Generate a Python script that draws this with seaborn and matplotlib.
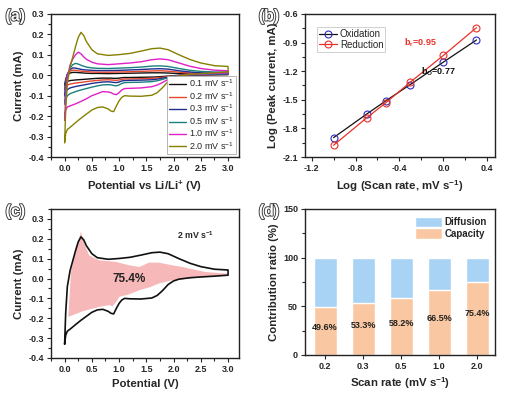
import numpy as np
import pandas as pd
import seaborn as sns
import matplotlib.pyplot as plt
import matplotlib.patheffects as pe
from matplotlib.ticker import AutoMinorLocator

# ---------------- data ----------------
# (a) CV curves: anodic branch (V going up) then cathodic branch (V going down)
rates = ['0.1', '0.2', '0.3', '0.5', '1.0', '2.0']
colors = ['#111111', '#e8452c', '#1f2f8f', '#1b8080', '#e21fc8', '#858000']

v_up = [0.0, 0.02, 0.05, 0.1, 0.15, 0.2, 0.25, 0.3, 0.35, 0.4, 0.5, 0.6,
        0.8, 1.0, 1.2, 1.4, 1.6, 1.75, 1.9, 2.1, 2.3, 2.5, 2.75, 3.0]
v_dn = [3.0, 2.75, 2.5, 2.3, 2.1, 2.0, 1.9, 1.8, 1.7, 1.6, 1.4, 1.2, 1.1, 1.05,
        1.0, 0.95, 0.9, 0.85, 0.8, 0.7, 0.6, 0.5, 0.4, 0.3, 0.2, 0.1, 0.05, 0.02, 0.0]

i_up_01 = [-0.05, -0.018, 0.002, 0.011, 0.014, 0.014, 0.013, 0.012, 0.011, 0.01, 0.009, 0.009,
           0.008, 0.009, 0.01, 0.011, 0.012, 0.012, 0.011, 0.008, 0.006, 0.005, 0.005, 0.005]
i_dn_01 = [0.003, 0.002, 0.001, 0.0, -0.001, -0.002, -0.004, -0.006, -0.008, -0.009, -0.01, -0.011, -0.011, -0.012,
           -0.014, -0.015, -0.015, -0.014, -0.014, -0.014, -0.015, -0.017, -0.019, -0.021, -0.023, -0.026, -0.03, -0.036, -0.05]
i_up_02 = [-0.07, -0.025, 0.005, 0.02, 0.025, 0.024, 0.022, 0.02, 0.019, 0.018, 0.016, 0.015,
           0.015, 0.016, 0.017, 0.019, 0.021, 0.022, 0.02, 0.015, 0.011, 0.009, 0.008, 0.008]
i_dn_02 = [0.004, 0.003, 0.002, 0.001, -0.001, -0.003, -0.006, -0.01, -0.013, -0.015, -0.017, -0.018, -0.018, -0.02,
           -0.023, -0.025, -0.024, -0.023, -0.022, -0.023, -0.025, -0.028, -0.031, -0.035, -0.038, -0.043, -0.048, -0.056, -0.07]
i_up_03 = [-0.10, -0.04, 0.005, 0.028, 0.036, 0.035, 0.032, 0.029, 0.027, 0.026, 0.024, 0.023,
           0.023, 0.024, 0.026, 0.028, 0.031, 0.032, 0.03, 0.022, 0.016, 0.012, 0.01, 0.01]
i_dn_03 = [0.006, 0.004, 0.003, 0.001, -0.001, -0.004, -0.009, -0.014, -0.019, -0.022, -0.024, -0.025, -0.026, -0.028,
           -0.033, -0.036, -0.035, -0.033, -0.032, -0.033, -0.036, -0.04, -0.045, -0.05, -0.055, -0.062, -0.07, -0.082, -0.10]
i_up_05 = [-0.14, -0.06, 0.0, 0.035, 0.052, 0.058, 0.055, 0.049, 0.044, 0.04, 0.036, 0.034,
           0.033, 0.035, 0.037, 0.04, 0.045, 0.046, 0.043, 0.033, 0.024, 0.019, 0.016, 0.015]
i_dn_05 = [0.008, 0.006, 0.004, 0.002, -0.001, -0.005, -0.012, -0.02, -0.027, -0.031, -0.034, -0.035, -0.036, -0.04,
           -0.047, -0.052, -0.05, -0.047, -0.046, -0.047, -0.052, -0.058, -0.065, -0.072, -0.08, -0.09, -0.1, -0.115, -0.14]
i_up_10 = [-0.22, -0.1, -0.01, 0.05, 0.08, 0.1, 0.113, 0.105, 0.09, 0.078, 0.064, 0.056,
           0.052, 0.056, 0.06, 0.066, 0.076, 0.08, 0.076, 0.06, 0.044, 0.033, 0.025, 0.022]
i_dn_10 = [0.012, 0.009, 0.006, 0.003, -0.002, -0.008, -0.02, -0.035, -0.048, -0.056, -0.062, -0.064, -0.065, -0.072,
           -0.085, -0.095, -0.092, -0.085, -0.082, -0.08, -0.09, -0.1, -0.115, -0.128, -0.14, -0.15, -0.155, -0.17, -0.22]
i_up_20 = [-0.33, -0.17, -0.04, 0.04, 0.09, 0.14, 0.185, 0.21, 0.195, 0.165, 0.125, 0.105,
           0.097, 0.101, 0.107, 0.118, 0.13, 0.133, 0.125, 0.1, 0.077, 0.06, 0.047, 0.043]
i_dn_20 = [0.017, 0.012, 0.008, 0.004, -0.003, -0.012, -0.03, -0.06, -0.085, -0.098, -0.103, -0.102, -0.1, -0.108,
           -0.125, -0.15, -0.178, -0.175, -0.165, -0.155, -0.158, -0.17, -0.19, -0.21, -0.232, -0.255, -0.265, -0.285, -0.33]

i_up = [i_up_01, i_up_02, i_up_03, i_up_05, i_up_10, i_up_20]
i_dn = [i_dn_01, i_dn_02, i_dn_03, i_dn_05, i_dn_10, i_dn_20]

# (b) log peak current vs log scan rate
log_rate = [-1.0, -0.699, -0.523, -0.301, 0.0, 0.301]
log_ox = [-1.897, -1.65, -1.51, -1.34, -1.105, -0.873]
log_red = [-1.977, -1.69, -1.53, -1.315, -1.035, -0.744]

# (c) capacitive contribution region at 2 mV/s
cap_v_up = [0.068, 0.117, 0.21, 0.30, 0.36, 0.45, 0.63, 0.94, 1.18, 1.37, 1.55, 1.73, 1.97, 2.16, 2.58, 2.98]
cap_i_up = [-0.193, 0.033, 0.151, 0.235, 0.176, 0.117, 0.092, 0.084, 0.067, 0.058, 0.08, 0.08, 0.067, 0.058, 0.033, 0.025]
cap_v_dn = [2.98, 2.58, 2.28, 1.97, 1.73, 1.55, 1.37, 1.18, 1.0, 0.97, 0.88, 0.82, 0.63, 0.33, 0.068]
cap_i_dn = [0.015, 0.008, 0.0, -0.009, -0.025, -0.045, -0.059, -0.08, -0.092, -0.109, -0.14, -0.134, -0.143, -0.165, -0.193]

# (d) contribution ratio
scan_rates = ['0.2', '0.3', '0.5', '1.0', '2.0']
capacity = [49.6, 53.3, 58.2, 66.5, 75.4]

# ---------------- style ----------------
sns.set_style('ticks')
plt.rcParams['font.family'] = ['Liberation Sans', 'DejaVu Sans']
plt.rcParams['font.weight'] = 'bold'
plt.rcParams['axes.labelweight'] = 'bold'
plt.rcParams['mathtext.default'] = 'regular'
plt.rcParams['axes.linewidth'] = 1.0
plt.rcParams['axes.edgecolor'] = '#222222'
plt.rcParams['xtick.direction'] = 'out'
plt.rcParams['ytick.direction'] = 'out'
plt.rcParams['xtick.major.size'] = 3
plt.rcParams['ytick.major.size'] = 3
plt.rcParams['xtick.minor.size'] = 2
plt.rcParams['ytick.minor.size'] = 2
plt.rcParams['xtick.major.pad'] = 2
plt.rcParams['ytick.major.pad'] = 2
plt.rcParams['xtick.minor.visible'] = True
plt.rcParams['ytick.minor.visible'] = True

fig = plt.figure(figsize=(5.08, 3.93), dpi=100)
ax_a = fig.add_axes([0.1004, 0.6005, 0.370, 0.364])
ax_b = fig.add_axes([0.6004, 0.6005, 0.374, 0.364])
ax_c = fig.add_axes([0.1004, 0.0891, 0.370, 0.379])
ax_d = fig.add_axes([0.6004, 0.0967, 0.374, 0.3715])

tick_fs = 6.5
label_fs = 8.2


def finish(ax):
    for s in ax.spines.values():
        s.set_visible(True)
    ax.tick_params(labelsize=tick_fs, width=0.8)
    ax.tick_params(which='minor', width=0.8)
    for t in ax.get_xticklabels() + ax.get_yticklabels():
        t.set_fontweight('bold')


def panel_label(ax, s):
    ax.text(-0.19, 0.985, s, transform=ax.transAxes, fontsize=11.5, color='white',
            fontweight='bold', va='center', ha='center',
            path_effects=[pe.withStroke(linewidth=1.3, foreground='#333333')])


# ---------------- (a) ----------------
for k in range(len(rates)):
    df = pd.DataFrame({'V': v_up + v_dn, 'I': i_up[k] + i_dn[k]})
    sns.lineplot(data=df, x='V', y='I', sort=False, estimator=None, ax=ax_a,
                 color=colors[k], linewidth=1.0, label=rates[k] + ' mV s$^{-1}$')
ax_a.set_xlim(-0.25, 3.2)
ax_a.set_ylim(-0.4, 0.3)
ax_a.set_xticks([0.0, 0.5, 1.0, 1.5, 2.0, 2.5, 3.0])
ax_a.set_xticklabels(['0.0', '0.5', '1.0', '1.5', '2.0', '2.5', '3.0'])
ax_a.set_yticks([-0.4, -0.3, -0.2, -0.1, 0.0, 0.1, 0.2, 0.3])
ax_a.set_yticklabels(['-0.4', '-0.3', '-0.2', '-0.1', '0.0', '0.1', '0.2', '0.3'])
ax_a.xaxis.set_minor_locator(AutoMinorLocator(2))
ax_a.yaxis.set_minor_locator(AutoMinorLocator(2))
ax_a.set_xlabel('Potential vs Li/Li$^{+}$ (V)', fontsize=label_fs, labelpad=4)
ax_a.set_ylabel('Current (mA)', fontsize=label_fs, labelpad=3)
leg = ax_a.legend(loc='lower right', frameon=True, fancybox=False, framealpha=1,
                  handlelength=1.9, handletextpad=0.3, labelspacing=0.08,
                  borderpad=0.25, borderaxespad=0.35, prop={'size': 6.5, 'weight': 'normal'})
leg.get_frame().set_edgecolor('#aaaaaa')
leg.get_frame().set_linewidth(0.6)
finish(ax_a)
panel_label(ax_a, '(a)')

# ---------------- (b) ----------------
sns.lineplot(x=log_rate, y=log_ox, ax=ax_b, color='#111111', linewidth=0.9,
             marker='o', markersize=5, markerfacecolor='none',
             markeredgecolor='#2b2bbf', markeredgewidth=0.8, label='Oxidation')
sns.lineplot(x=log_rate, y=log_red, ax=ax_b, color='#e8322a', linewidth=0.9,
             marker='o', markersize=5, markerfacecolor='none',
             markeredgecolor='#e8322a', markeredgewidth=0.8, label='Reduction')
ax_b.set_xlim(-1.26, 0.47)
ax_b.set_ylim(-2.1, -0.6)
ax_b.set_xticks([-1.2, -0.8, -0.4, 0.0, 0.4])
ax_b.set_xticklabels(['-1.2', '-0.8', '-0.4', '0.0', '0.4'])
ax_b.set_yticks([-2.1, -1.8, -1.5, -1.2, -0.9, -0.6])
ax_b.set_yticklabels(['-2.1', '-1.8', '-1.5', '-1.2', '-0.9', '-0.6'])
ax_b.xaxis.set_minor_locator(AutoMinorLocator(2))
ax_b.yaxis.set_minor_locator(AutoMinorLocator(2))
ax_b.set_xlabel('Log (Scan rate, mV s$^{-1}$)', fontsize=label_fs, labelpad=4)
ax_b.set_ylabel('Log (Peak current, mA)', fontsize=label_fs, labelpad=3)
leg = ax_b.legend(loc='upper left', bbox_to_anchor=(0.04, 0.94),
                  frameon=True, fancybox=False, handlelength=1.8,
                  handletextpad=0.3, labelspacing=0.05, borderpad=0.2,
                  prop={'size': 7, 'weight': 'normal'})
leg.get_frame().set_edgecolor('#bbbbbb')
leg.get_frame().set_linewidth(0.6)
ax_b.text(-0.21, -0.9, 'b$_{r}$=0.95', color='#e8322a', fontsize=6.5,
          fontweight='bold', ha='center', va='center')
ax_b.text(-0.04, -1.21, 'b$_{O}$=0.77', color='#111111', fontsize=6.5,
          fontweight='bold', ha='center', va='center')
finish(ax_b)
panel_label(ax_b, '(b)')

# ---------------- (c) ----------------
ax_c.fill(cap_v_up + cap_v_dn, cap_i_up + cap_i_dn, color='#f6b8b8', lw=0)
sns.lineplot(x=v_up + v_dn, y=i_up_20 + i_dn_20, sort=False, estimator=None,
             ax=ax_c, color='#111111', linewidth=1.2)
ax_c.set_xlim(-0.25, 3.2)
ax_c.set_ylim(-0.4, 0.35)
ax_c.set_xticks([0.0, 0.5, 1.0, 1.5, 2.0, 2.5, 3.0])
ax_c.set_xticklabels(['0.0', '0.5', '1.0', '1.5', '2.0', '2.5', '3.0'])
ax_c.set_yticks([-0.4, -0.3, -0.2, -0.1, 0.0, 0.1, 0.2, 0.3])
ax_c.set_yticklabels(['-0.4', '-0.3', '-0.2', '-0.1', '0.0', '0.1', '0.2', '0.3'])
ax_c.xaxis.set_minor_locator(AutoMinorLocator(2))
ax_c.yaxis.set_minor_locator(AutoMinorLocator(2))
ax_c.text(1.18, 0.0, '75.4%', fontsize=8.5, fontweight='bold', ha='center',
          va='center', color='#222222')
ax_c.text(2.4, 0.22, '2 mV s$^{-1}$', fontsize=6.3, fontweight='bold',
          ha='center', va='center')
ax_c.set_xlabel('Potential (V)', fontsize=label_fs, labelpad=4)
ax_c.set_ylabel('Current (mA)', fontsize=label_fs, labelpad=3)
finish(ax_c)
panel_label(ax_c, '(c)')

# ---------------- (d) ----------------
bars = pd.DataFrame({'rate': scan_rates, 'total': [100] * len(scan_rates),
                     'cap': capacity})
sns.barplot(data=bars, x='rate', y='total', ax=ax_d, color='#a9d3f5',
            width=0.6, saturation=1, label='Diffusion')
sns.barplot(data=bars, x='rate', y='cap', ax=ax_d, color='#f9c8a2',
            width=0.6, saturation=1, label='Capacity')
for k, c in enumerate(capacity):
    ax_d.text(k, c * 0.56, f'{c}%', fontsize=6.5, fontweight='bold',
              ha='center', va='center', color='#222222')
ax_d.set_xlim(-0.53, 4.47)
ax_d.set_ylim(0, 150)
ax_d.set_yticks([0, 50, 100, 150])
ax_d.yaxis.set_minor_locator(AutoMinorLocator(2))
ax_d.tick_params(axis='x', which='minor', bottom=False)
ax_d.set_xlabel('Scan rate (mV s$^{-1}$)', fontsize=label_fs, labelpad=3)
ax_d.set_ylabel('Contribution ratio (%)', fontsize=label_fs, labelpad=3)
ax_d.legend(loc='upper right', frameon=False, fontsize=7, handlelength=2.8,
            handleheight=1.3, handletextpad=0.3, labelspacing=0.1,
            borderaxespad=0.4)
finish(ax_d)
panel_label(ax_d, '(d)')

fig.savefig('out.png', dpi=100)
